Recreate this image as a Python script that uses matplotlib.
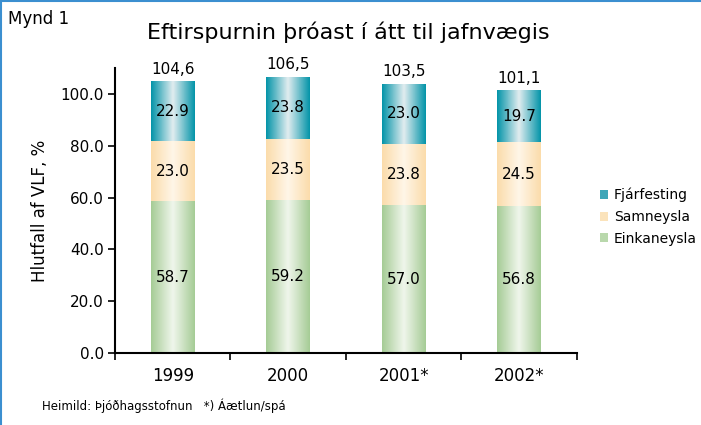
import numpy as np
import matplotlib
matplotlib.use("Agg")
import matplotlib.pyplot as plt
from matplotlib.colors import LinearSegmentedColormap
from matplotlib.lines import Line2D
from matplotlib.patches import Patch

years = ["1999", "2000", "2001*", "2002*"]
einkaneysla = [58.7, 59.2, 57.0, 56.8]
samneysla = [23.0, 23.5, 23.8, 24.5]
fjarfesting = [22.9, 23.8, 23.0, 19.7]
totals = ["104,6", "106,5", "103,5", "101,1"]
yticks = [0, 20, 40, 60, 80, 100]

plt.rcParams["font.family"] = ["DejaVu Sans"]

# edge colour, centre colour, legend colour
series = [
    ("Einkaneysla", einkaneysla, ("#a6cc96", "#f0f6ec", "#b9d8ac")),
    ("Samneysla", samneysla, ("#fbdcab", "#fff6e8", "#fbe3bb")),
    ("Fjárfesting", fjarfesting, ("#0595a9", "#e2edf0", "#3ea6b8")),
]

fig = plt.figure(figsize=(7.01, 4.25), dpi=100)
ax = fig.add_axes([0.164, 0.169, 0.659, 0.671])

x = np.arange(len(years))
width = 0.38
grad = np.linspace(0, 1, 64).reshape(1, -1)

bottoms = np.zeros(len(years))
handles = []
for name, vals, (edge, centre, leg) in series:
    cmap = LinearSegmentedColormap.from_list(name, [edge, centre, edge])
    bars = ax.bar(x, vals, width, bottom=bottoms, color="none", edgecolor="none")
    for rect, v, b in zip(bars, vals, bottoms):
        ax.imshow(grad, cmap=cmap, aspect="auto", zorder=2,
                  extent=(rect.get_x(), rect.get_x() + rect.get_width(),
                          rect.get_y(), rect.get_y() + rect.get_height()))
        ax.text(rect.get_x() + rect.get_width() / 2, b + v / 2, f"{v:.1f}",
                ha="center", va="center", fontsize=11, zorder=3)
    bottoms = bottoms + np.array(vals)
    handles.append(Patch(facecolor=leg, edgecolor="none", label=name))

for i, t in enumerate(totals):
    ax.text(x[i], bottoms[i] + 2.0, t, ha="center", va="bottom", fontsize=11)

ax.set_xlim(-0.5, len(years) - 0.5)
ax.set_ylim(0, 110)
ax.set_yticks(yticks)
ax.set_yticklabels([f"{v:.1f}" for v in yticks], fontsize=11)
ax.set_xticks(x)
ax.set_xticklabels(years, fontsize=12)
ax.set_xticks(np.arange(len(years) + 1) - 0.5, minor=True)
ax.tick_params(axis="x", which="major", length=0, pad=10)
ax.tick_params(axis="x", which="minor", length=5, direction="out", width=1.2)
ax.tick_params(axis="y", length=5, direction="out", width=1.2, pad=3)
for s in ["top", "right"]:
    ax.spines[s].set_visible(False)
for s in ["left", "bottom"]:
    ax.spines[s].set_linewidth(1.5)
ax.set_ylabel("Hlutfall af VLF, %", fontsize=12, labelpad=8)

leg = fig.legend(handles=handles[::-1], loc="center left", bbox_to_anchor=(0.838, 0.49),
                 frameon=False, fontsize=10, handlelength=0.6, handleheight=0.6,
                 handletextpad=0.4, labelspacing=0.55)

fig.text(0.012, 0.955, "Mynd 1", fontsize=12, va="center", ha="left")
fig.text(0.497, 0.925, "Eftirspurnin þróast í átt til jafnvægis", fontsize=16,
         va="center", ha="center")
fig.text(0.06, 0.045, "Heimild: Þjóðhagsstofnun   *) Áætlun/spá", fontsize=8.5,
         va="center", ha="left")

fig.add_artist(Line2D([0.002, 0.002], [0, 1], transform=fig.transFigure,
                      color="#3b8fd0", lw=1.5))
fig.add_artist(Line2D([0, 1], [0.998, 0.998], transform=fig.transFigure,
                      color="#3b8fd0", lw=1.5))

fig.savefig("out.png", dpi=100)
